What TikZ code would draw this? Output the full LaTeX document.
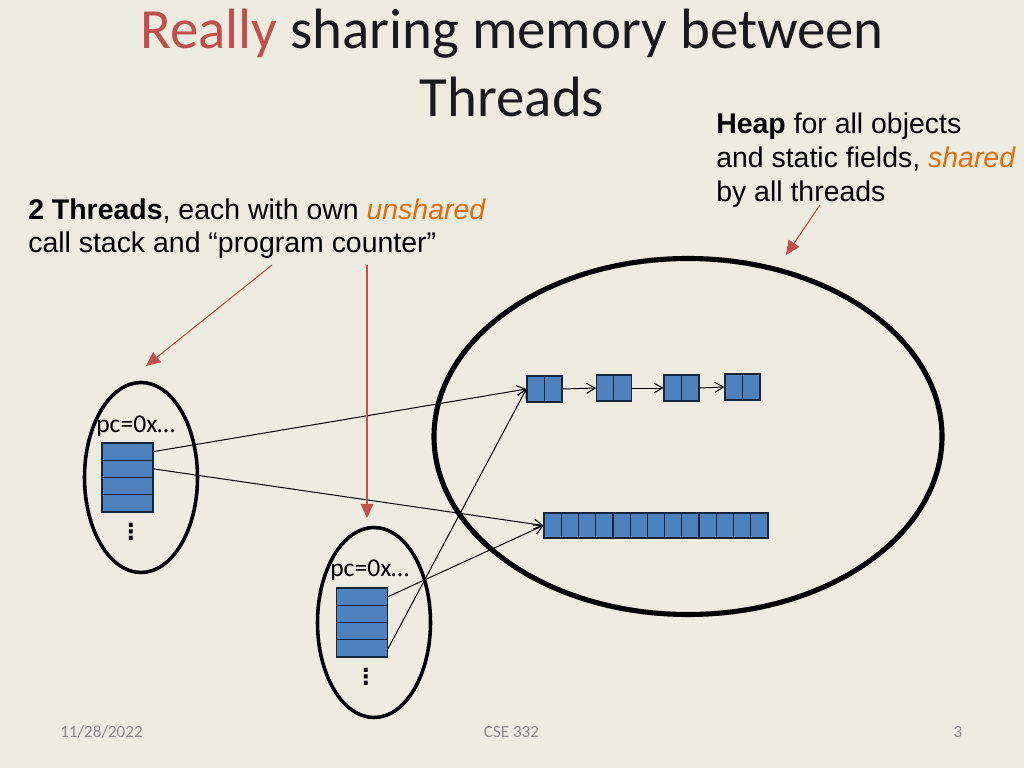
\documentclass[tikz,border=0pt]{standalone}
\usepackage{fontspec}
\setmainfont{Liberation Sans}
\newfontfamily\calibri{Carlito}
\newfontfamily\dejavu{DejaVu Sans}
\usetikzlibrary{shapes.geometric,arrows.meta}
\definecolor{bg}{HTML}{EEECE1}
\definecolor{accred}{HTML}{C0504D}
\definecolor{accorange}{HTML}{E46C0A}
\definecolor{cellblue}{HTML}{4F81BD}
\definecolor{cellline}{HTML}{17243A}
\definecolor{titletext}{HTML}{1A1A1A}
\definecolor{foot}{HTML}{8A8A8A}
\newcommand\pxu{0.703125pt}
\tikzset{
  cellbox/.style={draw=cellline, fill=cellblue, line width=0.9pt, inner sep=0pt},
  srow/.style={cellbox, minimum width=51*\pxu, minimum height=17.25*\pxu},
  lcell/.style={cellbox, minimum width=17.5*\pxu, minimum height=26*\pxu},
  acell/.style={cellbox, minimum width=17.23*\pxu, minimum height=25*\pxu},
  ptr/.style={black, line width=0.7pt, -{Straight Barb[length=6pt,width=7pt]}},
  note/.style={accred, line width=0.75pt, -{Triangle[length=10pt,width=9pt]}},
  body/.style={inner sep=0pt, anchor=base west, font=\fontsize{20}{24}\selectfont},
  ttl/.style={inner sep=0pt, anchor=base, font=\calibri\fontsize{40}{48}\selectfont, text=titletext},
  pctext/.style={inner sep=0pt, anchor=base west, font=\calibri\fontsize{18}{22}\selectfont},
  dotsnode/.style={inner sep=0pt, font=\dejavu\bfseries\fontsize{15.5}{18}\selectfont},
  footer/.style={inner sep=0pt, anchor=base, font=\calibri\fontsize{12}{14}\selectfont, text=foot},
  thread/.style={draw, ellipse, line width=2.5pt, inner sep=0pt, minimum width=113*\pxu, minimum height=190*\pxu},
}
\begin{document}
\begin{tikzpicture}[x=0.703125pt,y=-0.703125pt]
\fill[bg] (0,0) rectangle (1024,768);
\useasboundingbox (0,0) rectangle (1024,768);

% title
\node[ttl] (t1) at (512,49) {\textcolor{accred}{Really} sharing memory between};
\node[ttl] (t2) at (512,117) {Threads};

% notes
\node[body] (h1) at (716,134) {\textbf{Heap} for all objects};
\node[body] (h2) at (716,168) {and static fields, \textcolor{accorange}{\textit{shared}}};
\node[body] (h3) at (716,202) {by all threads};
\node[body] (n1) at (28,220) {\textbf{2 Threads}, each with own \textcolor{accorange}{\textit{unshared}}};
\node[body] (n2) at (28,253) {call stack and “program counter”};

% heap
\node[draw, ellipse, line width=3.6pt, inner sep=0pt, minimum width=508*\pxu, minimum height=356*\pxu] (heap) at (688,436.5) {};

% threads
\node[thread] (th1) at (141,477.5) {};
\node[thread] (th2) at (374,622.5) {};
\node[pctext] (pc1) at (96,432) {pc=0x…};
\node[pctext] (pc2) at (330,576) {pc=0x…};
\node[dotsnode] (d1) at (131,532) {⋮};
\node[dotsnode] (d2) at (366,677) {⋮};

% stacks
\node[srow] (s1r1) at (127.5,451.6) {};
\node[srow] (s1r2) at (127.5,468.9) {};
\node[srow] (s1r3) at (127.5,486.1) {};
\node[srow] (s1r4) at (127.5,503.4) {};
\node[srow] (s2r1) at (362,596.6) {};
\node[srow] (s2r2) at (362,613.9) {};
\node[srow] (s2r3) at (362,631.1) {};
\node[srow] (s2r4) at (362,648.4) {};

% linked list
\node[lcell] (l1a) at (535.75,389) {};
\node[lcell] (l1b) at (553.25,389) {};
\node[lcell] (l2a) at (605.5,388) {};
\node[lcell] (l2b) at (622.5,388) {};
\node[lcell] (l3a) at (672.75,388) {};
\node[lcell] (l3b) at (690.25,388) {};
\node[lcell] (l4a) at (733.75,387) {};
\node[lcell] (l4b) at (751.25,387) {};
\draw[ptr] (l1b.east) -- (l2a.west);
\draw[ptr] (l2b.east) -- (l3a.west);
\draw[ptr] (l3b.east) -- (l4a.west);

% array
\foreach \i in {1,...,13} {
  \node[acell] (a\i) at ({544+(\i-0.5)*224/13},525.5) {};
}

% pointers
\draw[ptr] (s1r1.east) -- (l1a.west);
\draw[ptr] (s1r2.east) -- (a1.west);
\draw[ptr] (s2r1.east) -- (a1.west);
\draw[ptr] (s2r4.east) -- (l1a.west);

% red annotation arrows
\coordinate (r1s) at (272,265);
\coordinate (r1e) at (146,366);
\coordinate (r2s) at (367,265);
\coordinate (r2e) at (367,518);
\coordinate (r3s) at (820,205);
\coordinate (r3e) at (786,255);
\draw[note] (r1s) -- (r1e);
\draw[note] (r2s) -- (r2e);
\draw[note] (r3s) -- (r3e);

% footer
\node[footer] (f1) at (101.5,737) {11/28/2022};
\node[footer] (f2) at (511.5,737) {CSE 332};
\node[footer] (f3) at (958,737) {3};
\end{tikzpicture}
\end{document}
